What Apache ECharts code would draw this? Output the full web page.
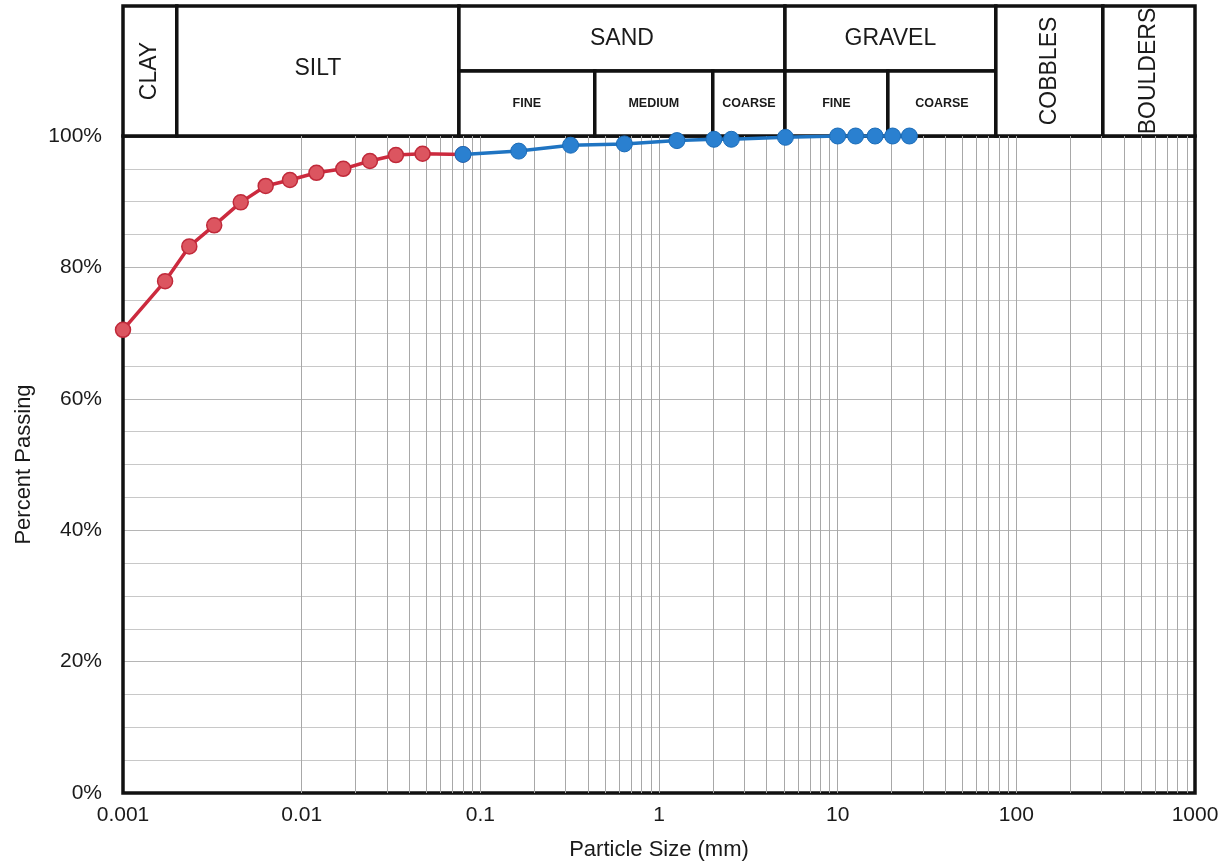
<!DOCTYPE html>
<html>
<head>
<meta charset="utf-8">
<script src="https://cdn.jsdelivr.net/npm/echarts@6/dist/echarts.min.js"></script>
<style>
  html, body { margin: 0; padding: 0; background: #fff; }
  #chart { width: 1228px; height: 867px; }
</style>
</head>
<body>
<div id="chart"></div>
<script>
// hydrometer (fines) part of the curve, mm / % passing
var finesSize = [0.001, 0.00172, 0.00235, 0.00324, 0.00456, 0.00629, 0.0086, 0.0121, 0.0171, 0.0241, 0.0337, 0.0475, 0.08]
var finesPass = [70.5, 77.9, 83.2, 86.4, 89.9, 92.4, 93.3, 94.4, 95.0, 96.2, 97.1, 97.3, 97.2]

// sieve part of the curve
var sieveSize = [0.08, 0.164, 0.32, 0.64, 1.26, 2.03, 2.54, 5.1, 10, 12.6, 16.2, 20.3, 25.2]
var sievePass = [97.2, 97.7, 98.6, 98.8, 99.3, 99.5, 99.5, 99.8, 100, 100, 100, 100, 100]

var xTicks = [0.001, 0.01, 0.1, 1, 10, 100, 1000]

// soil classification header boxes (row 0 = lower half, row 1 = upper half, 2 = full height)
var classNames = ['CLAY', 'SILT', 'SAND', 'FINE', 'MEDIUM', 'COARSE', 'GRAVEL', 'FINE', 'COARSE', 'COBBLES', 'BOULDERS']
var classFrom  = [0.001, 0.002, 0.0759, 0.0759, 0.437, 2.0, 5.07, 5.07, 19.1, 76.8, 305]
var classTo    = [0.002, 0.0759, 5.07, 0.437, 2.0, 5.07, 76.8, 19.1, 76.8, 305, 1000]
var classRow   = [2, 2, 1, 0, 0, 0, 1, 0, 0, 2, 2]

var font = 'Liberation Sans, Arial, sans-serif'

// log grid lines 2..9 in each decade
var logGrid = []
for (var d = -3; d < 3; d++) {
  for (var k = 1; k <= 9; k++) {
    logGrid.push(k * Math.pow(10, d))
  }
}

var headerData = classNames.map(function (n, i) {
  return [classFrom[i], classTo[i], classRow[i], n]
})

var chart = echarts.init(document.getElementById('chart'))

chart.setOption({
  animation: false,
  backgroundColor: '#fff',
  textStyle: { fontFamily: font },
  grid: [
    { left: 123, right: 33, top: 136, bottom: 74 },
    { left: 123, right: 33, top: 6, height: 130 }
  ],
  xAxis: [
    {
      type: 'log',
      gridIndex: 0,
      min: 0.001,
      max: 1000,
      logBase: 10,
      name: 'Particle Size (mm)',
      nameLocation: 'middle',
      nameGap: 46,
      nameTextStyle: { fontSize: 22, color: '#1a1a1a', fontFamily: font },
      axisLine: { show: false },
      axisTick: { show: false },
      splitLine: { show: false },
      axisLabel: {
        fontSize: 21,
        color: '#1a1a1a',
        margin: 12,
        fontFamily: font,
        formatter: function (v) {
          for (var i = 0; i < xTicks.length; i++) {
            if (Math.abs(v - xTicks[i]) / xTicks[i] < 1e-6) {
              return String(xTicks[i])
            }
          }
          return ''
        }
      }
    },
    {
      type: 'log',
      gridIndex: 1,
      min: 0.001,
      max: 1000,
      logBase: 10,
      show: false
    }
  ],
  yAxis: [
    {
      type: 'value',
      gridIndex: 0,
      min: 0,
      max: 100,
      interval: 20,
      name: 'Percent Passing',
      nameLocation: 'middle',
      nameGap: 88,
      nameTextStyle: { fontSize: 22, color: '#1a1a1a', fontFamily: font },
      axisLine: { show: false },
      axisTick: { show: false },
      axisLabel: {
        fontSize: 21,
        color: '#1a1a1a',
        margin: 21,
        fontFamily: font,
        formatter: '{value}%'
      },
      splitLine: { show: true, lineStyle: { color: '#b5b5b5', width: 1 } },
      minorTick: { show: false, splitNumber: 4 },
      minorSplitLine: { show: true, lineStyle: { color: '#c8c8c8', width: 1 } }
    },
    {
      type: 'value',
      gridIndex: 1,
      min: 0,
      max: 2,
      show: false
    }
  ],
  series: [
    {
      // vertical log grid
      type: 'line',
      xAxisIndex: 0,
      yAxisIndex: 0,
      data: [],
      silent: true,
      z: 1,
      markLine: {
        silent: true,
        symbol: 'none',
        label: { show: false },
        lineStyle: { color: '#a8a8a8', width: 1, type: 'solid' },
        data: logGrid.map(function (v) { return { xAxis: v } })
      }
    },
    {
      // plot frame
      type: 'line',
      xAxisIndex: 0,
      yAxisIndex: 0,
      data: [],
      silent: true,
      z: 5,
      markArea: {
        silent: true,
        itemStyle: { color: 'rgba(0,0,0,0)', borderColor: '#111', borderWidth: 3.5 },
        data: [[{ xAxis: 0.001, yAxis: 0 }, { xAxis: 1000, yAxis: 100 }]]
      }
    },
    {
      // classification header
      type: 'custom',
      xAxisIndex: 1,
      yAxisIndex: 1,
      silent: true,
      z: 4,
      data: headerData,
      renderItem: function (params, api) {
        var from = api.value(0)
        var to = api.value(1)
        var row = api.value(2)
        var name = headerData[params.dataIndex][3]
        var y0 = row === 1 ? 1 : 0
        var y1 = row === 0 ? 1 : 2
        var p0 = api.coord([from, y0])
        var p1 = api.coord([to, y1])
        var x = p0[0], y = p1[1]
        var w = p1[0] - p0[0], h = p0[1] - p1[1]
        var vertical = row === 2 && name !== 'SILT'
        var sub = row === 0
        var cx = x + w / 2
        var cy = y + h / 2
        if (name === 'SILT') cy = y + h / 2 - 2
        return {
          type: 'group',
          children: [
            {
              type: 'rect',
              shape: { x: x, y: y, width: w, height: h },
              style: { fill: '#fff', stroke: '#111', lineWidth: 3.5 }
            },
            {
              type: 'text',
              x: cx,
              y: cy,
              rotation: vertical ? Math.PI / 2 : 0,
              style: {
                text: name,
                textAlign: 'center',
                textVerticalAlign: 'middle',
                fontSize: sub ? 12.5 : 23,
                fontWeight: sub ? 'bold' : 'normal',
                fontFamily: font,
                fill: '#1a1a1a'
              }
            }
          ]
        }
      }
    },
    {
      name: 'Hydrometer',
      type: 'line',
      xAxisIndex: 0,
      yAxisIndex: 0,
      data: finesSize.map(function (v, i) { return [v, finesPass[i]] }),
      symbol: 'circle',
      symbolSize: 15,
      z: 6,
      lineStyle: { color: '#cc2a3e', width: 3.5 },
      itemStyle: { color: '#dc5560', borderColor: '#c02a3a', borderWidth: 1.5 }
    },
    {
      name: 'Sieve',
      type: 'line',
      xAxisIndex: 0,
      yAxisIndex: 0,
      data: sieveSize.map(function (v, i) { return [v, sievePass[i]] }),
      symbol: 'circle',
      symbolSize: 16,
      z: 7,
      lineStyle: { color: '#1f74c2', width: 3.5 },
      itemStyle: { color: '#2a80d0', borderColor: '#1b6cb8', borderWidth: 1 }
    }
  ]
})
</script>
</body>
</html>
